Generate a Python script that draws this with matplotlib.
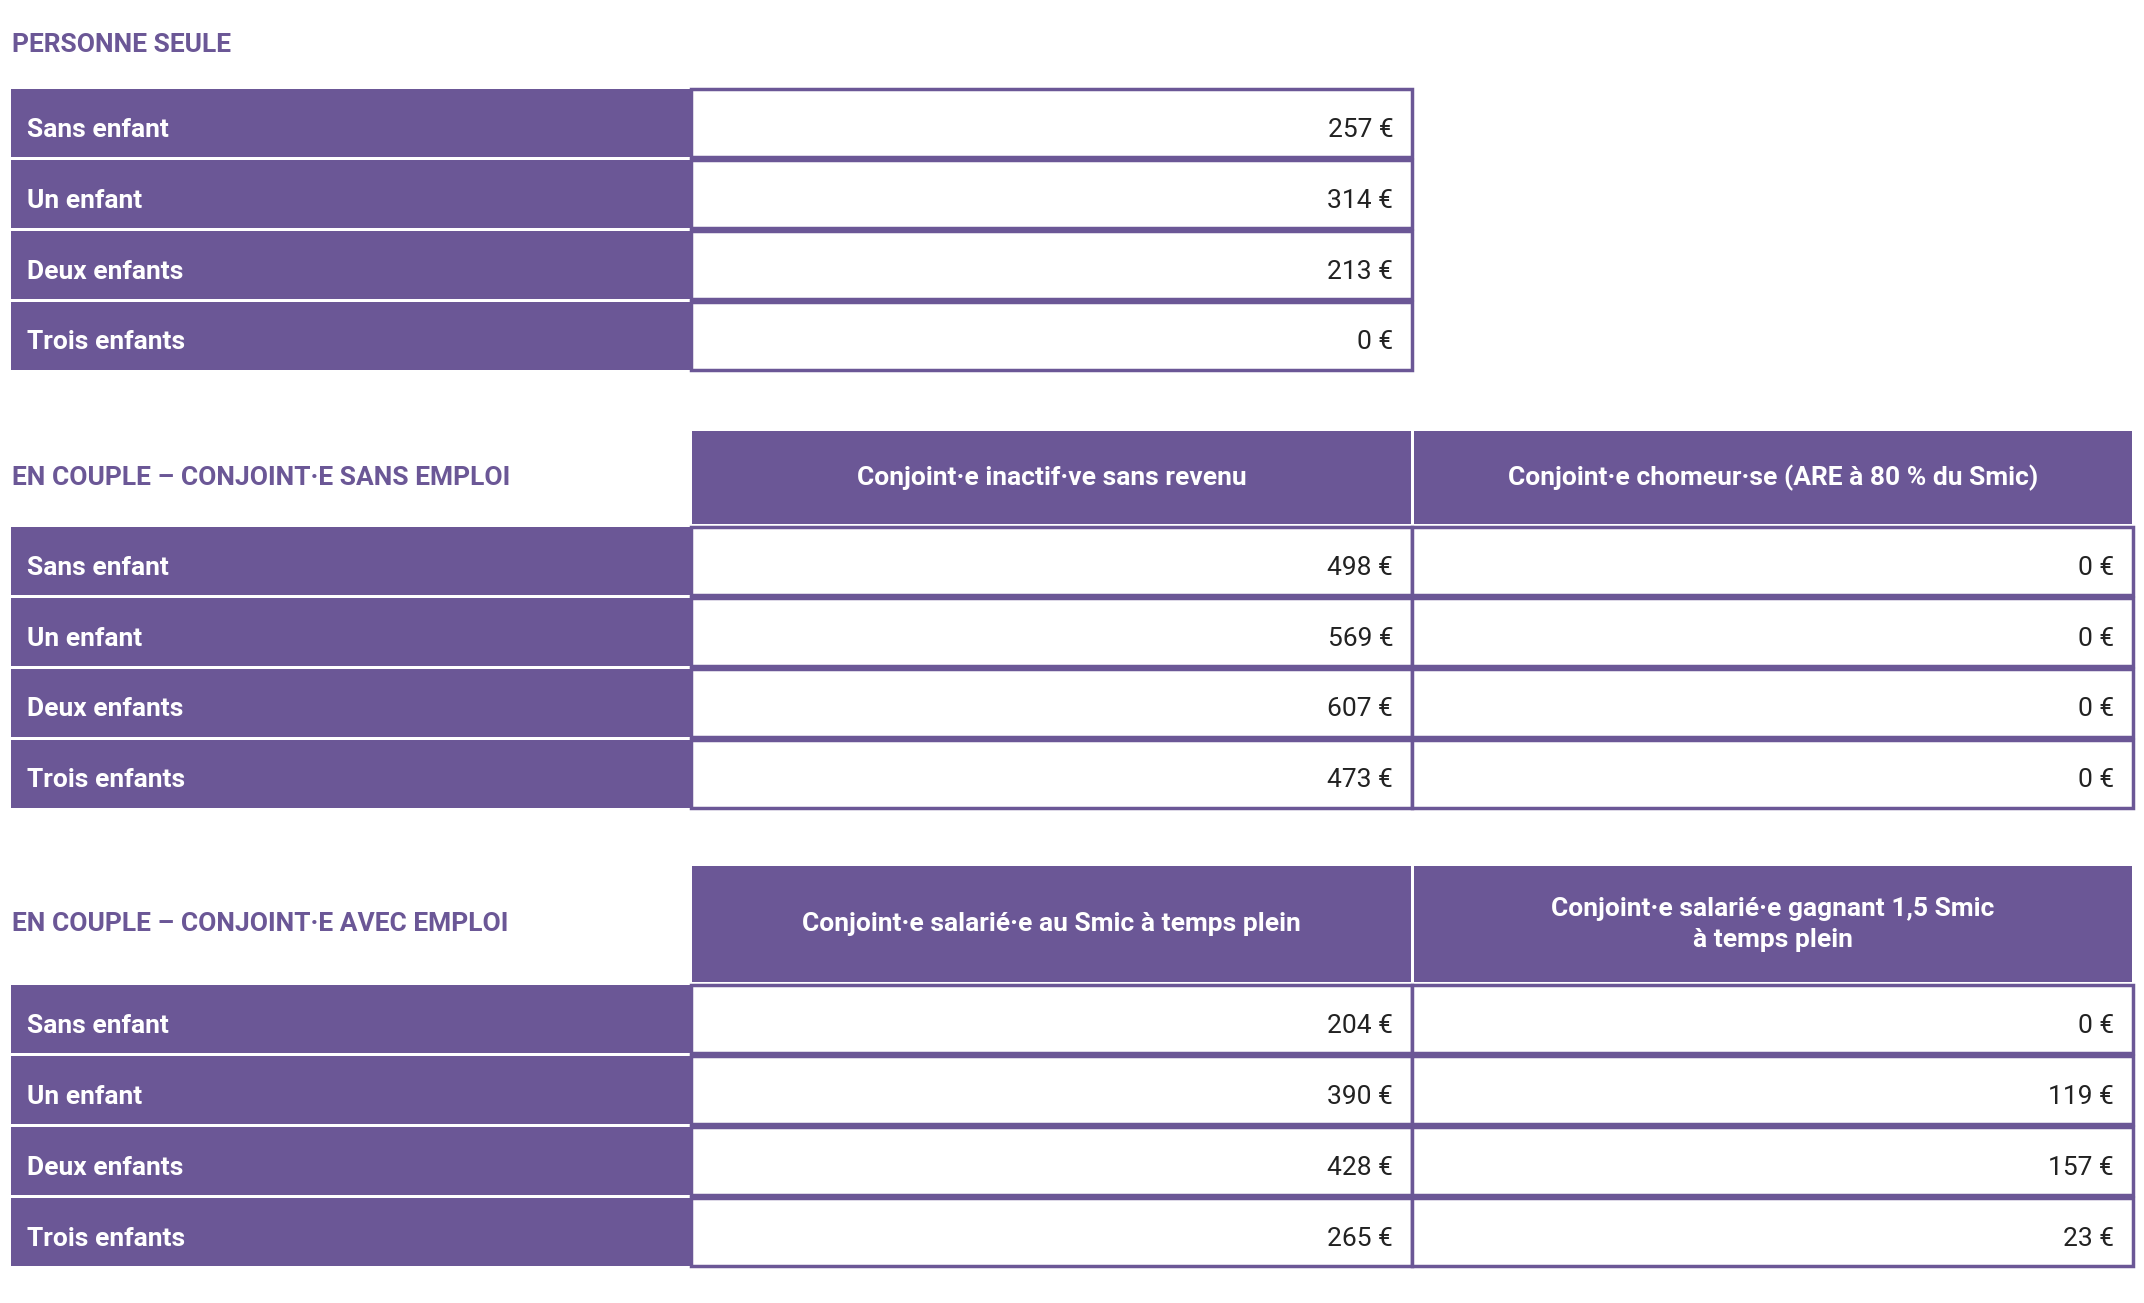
import matplotlib.pyplot as plt
from matplotlib.patches import Rectangle

PURPLE = '#6b5796'
plt.rcParams['font.family'] = ['Roboto', 'DejaVu Sans']

rows = ['Sans enfant', 'Un enfant', 'Deux enfants', 'Trois enfants']

title1 = 'PERSONNE SEULE'
seule = ['257 €', '314 €', '213 €', '0 €']

title2 = 'EN COUPLE – CONJOINT·E SANS EMPLOI'
cols2 = ['Conjoint·e inactif·ve sans revenu', 'Conjoint·e chomeur·se (ARE à 80 % du Smic)']
inactif = ['498 €', '569 €', '607 €', '473 €']
chomeur = ['0 €', '0 €', '0 €', '0 €']

title3 = 'EN COUPLE – CONJOINT·E AVEC EMPLOI'
cols3 = ['Conjoint·e salarié·e au Smic à temps plein', 'Conjoint·e salarié·e gagnant 1,5 Smic\nà temps plein']
smic = ['204 €', '390 €', '428 €', '265 €']
smic15 = ['0 €', '119 €', '157 €', '23 €']

fig = plt.figure(figsize=(21.44, 13.03), dpi=100)
ax = fig.add_axes([0, 0, 1, 1])
ax.set_xlim(0, 1568)
ax.set_ylim(955, 0)
ax.axis('off')

FS = 19
X0, X1, X2, X3 = 8, 505, 1033, 1560


def cell(x0, x1, y0, y1, fill):
    ax.add_patch(Rectangle((x0, y0), x1 - x0, y1 - y0, facecolor=fill,
                           edgecolor=PURPLE if fill == 'white' else 'none', lw=2.5))


def body(top, values_lists):
    h = 52
    for i, r in enumerate(rows):
        y0 = top + i * h
        y1 = y0 + h - 2
        cell(X0, X1, y0, y1, PURPLE)
        ax.text(X0 + 12, (y0 + y1) / 2 + 5, r, color='white', fontsize=FS,
                fontweight='bold', va='center')
        for j, vals in enumerate(values_lists):
            xa, xb = [(X1, X2), (X2, X3)][j]
            cell(xa, xb, y0, y1, 'white')
            ax.text(xb - 14, (y0 + y1) / 2 + 5, vals[i], color='#222222',
                    fontsize=FS, va='center', ha='right')


def header(y0, y1, title, cols):
    ax.text(X0 + 1, (y0 + y1) / 2, title, color=PURPLE, fontsize=FS,
            fontweight='bold', va='center')
    for j, c in enumerate(cols):
        xa, xb = [(X1, X2), (X2, X3)][j]
        cell(xa + 1, xb - 1, y0, y1, PURPLE)
        ax.text((xa + xb) / 2, (y0 + y1) / 2, c, color='white', fontsize=FS,
                fontweight='bold', va='center', ha='center', linespacing=1.4)


ax.text(X0 + 1, 33, title1, color=PURPLE, fontsize=FS, fontweight='bold', va='center')
body(65, [seule])
header(316, 384, title2, cols2)
body(386, [inactif, chomeur])
header(635, 720, title3, cols3)
body(722, [smic, smic15])

fig.savefig('out.png', dpi=100, facecolor='white')
